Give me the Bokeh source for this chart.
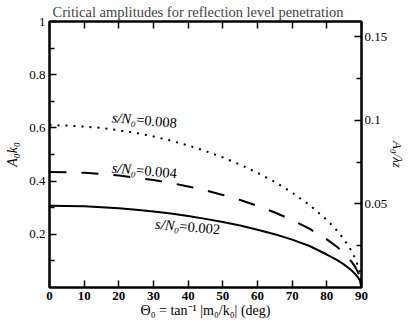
from bokeh.plotting import figure
from bokeh.models import Range1d, LinearAxis, FixedTicker
from bokeh.core.properties import value
from bokeh.embed import file_html
from bokeh.resources import INLINE
import math

# ---- data ----
theta = [0, 5, 10, 15, 20, 25, 30, 35, 40, 45, 50, 55, 60, 65, 70, 75, 80, 83, 85, 87, 88, 89, 89.5, 90]
amp_002 = [0.307, 0.306, 0.305, 0.302, 0.298, 0.292, 0.286, 0.278, 0.269, 0.258, 0.246, 0.233, 0.217,
           0.200, 0.180, 0.156, 0.124, 0.103, 0.086, 0.066, 0.053, 0.038, 0.027, 0.0]
amp_004 = [0.434, 0.433, 0.431, 0.427, 0.421, 0.413, 0.404, 0.393, 0.380, 0.365, 0.348, 0.329, 0.307,
           0.282, 0.254, 0.221, 0.181, 0.152, 0.128, 0.099, 0.081, 0.057, 0.041, 0.0]
amp_008 = [0.610, 0.609, 0.605, 0.600, 0.591, 0.581, 0.568, 0.552, 0.534, 0.513, 0.489, 0.462, 0.431,
           0.397, 0.357, 0.310, 0.254, 0.213, 0.180, 0.140, 0.114, 0.081, 0.057, 0.0]

series_names = ["0.002", "0.004", "0.008"]
label_theta = [37.5, 25.0, 25.0]
label_amp = [0.232, 0.443, 0.632]

x_ticks = [0, 10, 20, 30, 40, 50, 60, 70, 80, 90]
left_ticks = [0.2, 0.4, 0.6, 0.8, 1.0]
left_minor = [0.1, 0.3, 0.5, 0.7, 0.9]
right_ticks = [0.05, 0.1, 0.15]
right_minor = [0.025, 0.075, 0.125]

SERIF = "Liberation Serif"

p = figure(width=408, height=322, output_backend="svg", toolbar_location=None,
           x_range=Range1d(0, 90), y_range=Range1d(0, 1),
           min_border_left=49, min_border_right=45, min_border_top=20, min_border_bottom=35,
           background_fill_color="white", border_fill_color="white")
p.extra_y_ranges = {"r": Range1d(0, 1 / (2 * math.pi))}
p.xgrid.visible = False
p.ygrid.visible = False
p.outline_line_color = "black"
p.outline_line_width = 2

p.title.text = "Critical amplitudes for reflection level penetration"
p.title.text_font = SERIF
p.title.text_font_size = "14.5px"
p.title.text_font_style = "normal"
p.title.align = "left"
p.title.offset = 3
p.title.standoff = 3

def style_axis(ax):
    ax.axis_line_width = 2
    ax.axis_line_color = "black"
    ax.major_tick_in = 7
    ax.major_tick_out = 0
    ax.minor_tick_in = 5
    ax.minor_tick_out = 0
    ax.major_tick_line_width = 1.5
    ax.minor_tick_line_width = 1.5
    ax.major_label_text_font = SERIF
    ax.major_label_text_font_size = "13px"
    ax.major_label_text_color = "black"
    ax.axis_label_text_font = SERIF
    ax.axis_label_text_font_size = "14px"
    ax.axis_label_text_color = "black"

# bottom
xa = p.xaxis[0]
style_axis(xa)
xa.ticker = FixedTicker(ticks=x_ticks, minor_ticks=[])
xa.major_label_text_font_style = "bold"
xa.major_label_standoff = 4
xa.axis_label = "Θ₀ = tan⁻¹ |m₀/k₀| (deg)"
xa.axis_label_standoff = 0
xa.axis_label_text_font_style = "normal"

# left
ya = p.yaxis[0]
style_axis(ya)
ya.ticker = FixedTicker(ticks=left_ticks, minor_ticks=left_minor)
ya.major_label_overrides = {t: ("1" if t == 1.0 else str(t)) for t in left_ticks}
ya.major_label_standoff = 4
ya.axis_label = "A₀k₀"
ya.axis_label_text_font_style = "italic"
ya.axis_label_standoff = 6

# right
ra = LinearAxis(y_range_name="r")
style_axis(ra)
ra.ticker = FixedTicker(ticks=right_ticks, minor_ticks=right_minor)
ra.major_label_overrides = {t: str(t) for t in right_ticks}
ra.major_label_standoff = 3
ra.axis_label = "A₀/λz"
ra.axis_label_text_font_style = "italic"
ra.axis_label_text_font_size = "13px"
ra.axis_label_standoff = 0
p.add_layout(ra, "right")

# top (ticks only, labels not drawn)
ta = LinearAxis()
style_axis(ta)
ta.ticker = FixedTicker(ticks=x_ticks, minor_ticks=[])
ta.major_label_text_font_size = "1px"
ta.major_label_text_color = None
ta.major_label_standoff = 0
p.add_layout(ta, "above")

# curves
p.line(theta, amp_002, line_color="black", line_width=2)
p.line(theta, amp_004, line_color="black", line_width=2, line_dash="17 15")
p.line(theta, amp_008, line_color="black", line_width=2, line_dash="2 6")

# labels: italic "s/N0" right-aligned + roman "=value" left-aligned at the same anchor
p.text(x=label_theta, y=label_amp, text=["s/N₀"] * 3, angle=-5, angle_units="deg",
       text_font=value(SERIF), text_font_size="14.5px", text_font_style="italic",
       text_align="right", text_baseline="middle", text_color="black")
p.text(x=label_theta, y=label_amp, text=["=" + s for s in series_names], angle=-5, angle_units="deg",
       text_font=value(SERIF), text_font_size="14.5px", text_font_style="normal",
       text_align="left", text_baseline="middle", text_color="black")

open("out.html", "w").write(file_html(p, INLINE))
